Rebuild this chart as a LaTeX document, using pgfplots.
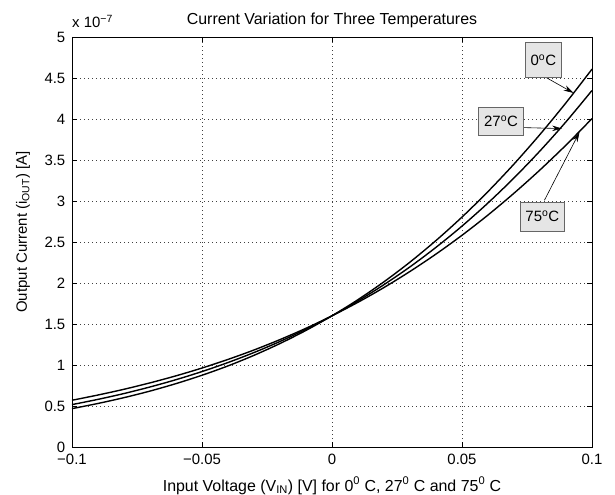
\documentclass[border=0pt]{standalone}
\usepackage{fontspec}
\setmainfont{Liberation Sans}
\usepackage{pgfplots}
\pgfplotsset{compat=1.18}
\usetikzlibrary{arrows.meta}
\begin{document}
\begin{tikzpicture}[font=\fontsize{15}{18}\selectfont]
\begin{axis}[
  name=ax,
  scale only axis,
  width=520bp, height=410bp,
  xmin=-0.1, xmax=0.1, ymin=0, ymax=5,
  xtick={-0.1,-0.05,0,0.05,0.1},
  xticklabels={−0.1,−0.05,0,0.05,0.1},
  ytick={0,0.5,1,1.5,2,2.5,3,3.5,4,4.5,5},
  yticklabels={0,0.5,1,1.5,2,2.5,3,3.5,4,4.5,5},
  tick align=inside,
  major tick length=5bp,
  tick style={black, line width=0.6bp},
  axis line style={black, line width=0.8bp},
  grid=major,
  major grid style={black!75, line width=0.5bp, dash pattern=on 0.6bp off 3.4bp},
  xticklabel style={inner sep=0pt, anchor=north, yshift=-7bp},
  yticklabel style={inner sep=0pt, anchor=east, xshift=-6.5bp},
  clip=false,
]
\addplot[black, line width=1.4bp, smooth] coordinates {
(-0.10,0.468) (-0.09,0.531) (-0.08,0.602) (-0.07,0.682) (-0.06,0.773)
(-0.05,0.875) (-0.04,0.989) (-0.03,1.118) (-0.02,1.262) (-0.01,1.422)
(0,1.600) (0.01,1.797) (0.02,2.015) (0.03,2.255) (0.04,2.518)
(0.05,2.804) (0.06,3.115) (0.07,3.451) (0.08,3.812) (0.09,4.198) (0.10,4.608)};
\addplot[black, line width=1.4bp, smooth] coordinates {
(-0.10,0.517) (-0.09,0.581) (-0.08,0.652) (-0.07,0.732) (-0.06,0.821)
(-0.05,0.920) (-0.04,1.030) (-0.03,1.152) (-0.02,1.287) (-0.01,1.436)
(0,1.600) (0.01,1.781) (0.02,1.980) (0.03,2.197) (0.04,2.435)
(0.05,2.694) (0.06,2.976) (0.07,3.281) (0.08,3.611) (0.09,3.966) (0.10,4.348)};
\addplot[black, line width=1.4bp, smooth] coordinates {
(-0.10,0.570) (-0.09,0.634) (-0.08,0.704) (-0.07,0.782) (-0.06,0.868)
(-0.05,0.963) (-0.04,1.068) (-0.03,1.183) (-0.02,1.310) (-0.01,1.448)
(0,1.600) (0.01,1.765) (0.02,1.945) (0.03,2.141) (0.04,2.353)
(0.05,2.582) (0.06,2.829) (0.07,3.095) (0.08,3.379) (0.09,3.682) (0.10,4.005)};
% annotations
\draw[-{Stealth[length=10bp,width=5.5bp]}, line width=0.6bp] (axis cs:0.0824,4.505) -- (axis cs:0.0929,4.317);
\draw[-{Stealth[length=10bp,width=5.5bp]}, line width=0.6bp] (axis cs:0.0737,3.895) -- (axis cs:0.0885,3.883);
\draw[-{Stealth[length=10bp,width=5.5bp]}, line width=0.6bp] (axis cs:0.0817,3.009) -- (axis cs:0.0952,3.84);
\node[draw=black!60, fill=black!10, line width=0.5bp, minimum width=36bp, minimum height=35bp, inner sep=0pt] at (axis cs:0.0813,4.72) {0\textsuperscript{o}C};
\node[draw=black!60, fill=black!10, line width=0.5bp, minimum width=45bp, minimum height=28bp, inner sep=0pt] at (axis cs:0.0650,3.97) {27\textsuperscript{o}C};
\node[draw=black!60, fill=black!10, line width=0.5bp, minimum width=44bp, minimum height=29bp, inner sep=0pt] at (axis cs:0.0809,2.811) {75\textsuperscript{o}C};
% labels
\node[anchor=base west, inner sep=0pt] at ([yshift=9bp]rel axis cs:0,1) {x 10\textsuperscript{−7}};
\node[anchor=base, inner sep=0pt, font=\fontsize{16}{19}\selectfont] at ([yshift=12.5bp]rel axis cs:0.5,1) {Current Variation for Three Temperatures};
\node[anchor=base, inner sep=0pt, font=\fontsize{16}{19}\selectfont] at ([yshift=-44bp]rel axis cs:0.5,0) {Input Voltage (V\textsubscript{IN}) [V] for 0\textsuperscript{0} C, 27\textsuperscript{0} C and 75\textsuperscript{0} C};
\node[anchor=base, rotate=90, inner sep=0pt] at ([xshift=-45bp,yshift=10bp]rel axis cs:0,0.5) {Output Current (i\textsubscript{OUT}) [A]};
\coordinate (bl) at (rel axis cs:0,0);
\coordinate (tr) at (rel axis cs:1,1);
\end{axis}
\pgfresetboundingbox
\path[use as bounding box] ([xshift=-72bp,yshift=-48bp]bl) rectangle ([xshift=23bp,yshift=37bp]tr);
\end{tikzpicture}
\end{document}
